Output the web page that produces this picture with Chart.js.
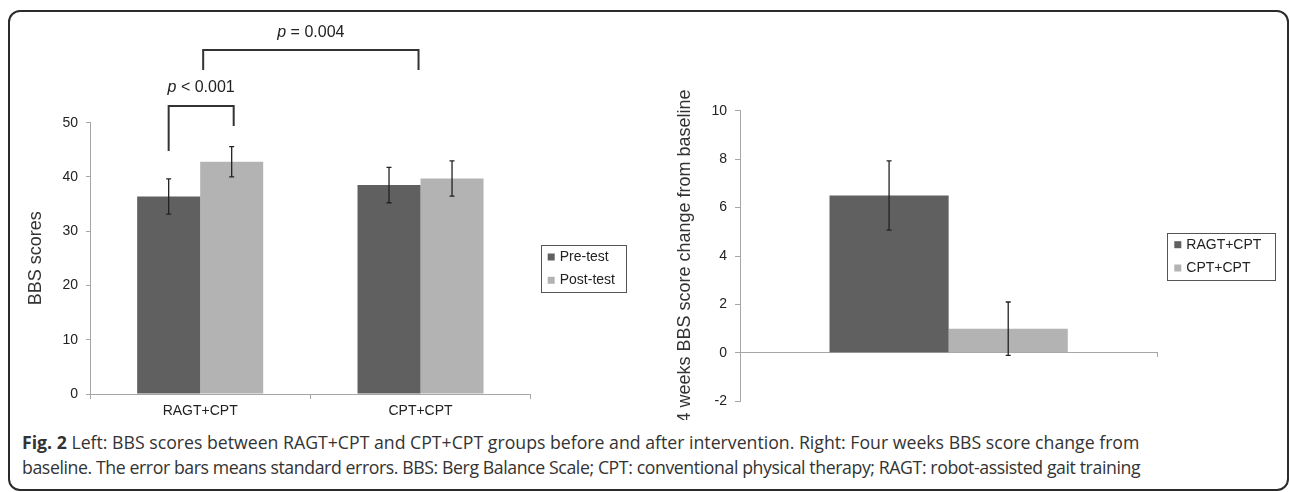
<!DOCTYPE html>
<html>
<head>
<meta charset="utf-8">
<script src="https://cdn.jsdelivr.net/npm/chart.js@4"></script>
<style>
  body { margin: 0; background: #fff; }
  #frame { position: absolute; left: 8px; top: 10px; width: 1281px; height: 481px;
           box-sizing: border-box; border: 2px solid #2b2b2b; border-radius: 12px; }
  #left { position: absolute; left: 0; top: 0; }
  #right { position: absolute; left: 640px; top: 0; }
  #caption { position: absolute; left: 22px; top: 430px; font-family: 'Open Sans', sans-serif;
             font-size: 17.7px; line-height: 25px; color: #333; white-space: nowrap; }
  #caption .l2 { letter-spacing: -0.4px; }
</style>
</head>
<body>
<div id="frame"></div>
<canvas id="left" width="640" height="420"></canvas>
<canvas id="right" width="650" height="420"></canvas>
<div id="caption"><b>Fig. 2</b> Left: BBS scores between RAGT+CPT and CPT+CPT groups before and after intervention. Right: Four weeks BBS score change from<br><span class="l2">baseline. The error bars means standard errors. BBS: Berg Balance Scale; CPT: conventional physical therapy; RAGT: robot-assisted gait training</span></div>
<script>
// data
var groups = ['RAGT+CPT', 'CPT+CPT'];
var preTest = [36.4, 38.5];
var postTest = [42.8, 39.7];
var preErr = [3.25, 3.25];
var postErr = [2.8, 3.25];

var changeRagt = [6.5];
var changeCpt = [1.0];
var changeRagtErr = [1.43];
var changeCptErr = [1.1];

var darkGrey = '#606060';
var lightGrey = '#b3b3b3';
var axisGrey = '#a6a6a6';
var font = '"Liberation Sans", Arial, sans-serif';

Chart.defaults.font.family = font;
Chart.defaults.color = '#222';

// draws mean +/- SE whiskers on every bar
var errorBars = {
    id: 'errorBars',
    afterDatasetsDraw: function(chart) {
        var ctx = chart.ctx;
        var y = chart.scales.y;
        ctx.save();
        ctx.strokeStyle = '#222';
        ctx.lineWidth = 1.3;
        chart.data.datasets.forEach(function(ds, i) {
            chart.getDatasetMeta(i).data.forEach(function(bar, j) {
                var top = y.getPixelForValue(ds.data[j] + ds.errors[j]);
                var bot = y.getPixelForValue(ds.data[j] - ds.errors[j]);
                ctx.beginPath();
                ctx.moveTo(bar.x, top); ctx.lineTo(bar.x, bot);
                ctx.moveTo(bar.x - 2.5, top); ctx.lineTo(bar.x + 2.5, top);
                ctx.moveTo(bar.x - 2.5, bot); ctx.lineTo(bar.x + 2.5, bot);
                ctx.stroke();
            });
        });
        ctx.restore();
    }
};

// legend with a frame, like the excel one
var boxLegend = {
    id: 'boxLegend',
    afterDraw: function(chart, args, opts) {
        var ctx = chart.ctx;
        var x = chart.chartArea.right + opts.dx;
        var y0 = opts.top;
        ctx.save();
        ctx.strokeStyle = '#555';
        ctx.lineWidth = 1;
        ctx.strokeRect(Math.round(x) + 0.5, Math.round(y0) + 0.5, opts.width, opts.height);
        ctx.font = '14px ' + font;
        ctx.textBaseline = 'middle';
        chart.data.datasets.forEach(function(ds, i) {
            var cy = y0 + 12 + i * 23.3;
            ctx.fillStyle = ds.backgroundColor;
            ctx.fillRect(x + 7, cy - 3.5, 7, 7);
            ctx.fillStyle = '#222';
            ctx.fillText(ds.label, x + 19, cy);
        });
        ctx.restore();
    }
};

// significance brackets, placed in data units
var brackets = {
    id: 'brackets',
    afterDraw: function(chart, args, opts) {
        var ctx = chart.ctx;
        var xs = chart.scales.x, ys = chart.scales.y;
        function px(p) {
            if (p.dataset !== undefined) return chart.getDatasetMeta(p.dataset).data[p.index].x;
            return xs.getPixelForValue(p.index);
        }
        ctx.save();
        ctx.strokeStyle = '#333';
        ctx.lineWidth = 2;
        opts.items.forEach(function(b) {
            var x1 = px(b.from) + (b.dx1 || 0), x2 = px(b.to) + (b.dx2 || 0);
            var top = ys.getPixelForValue(b.top);
            ctx.beginPath();
            ctx.moveTo(x1, ys.getPixelForValue(b.left));
            ctx.lineTo(x1, top);
            ctx.lineTo(x2, top);
            ctx.lineTo(x2, ys.getPixelForValue(b.right));
            ctx.stroke();

            var ty = ys.getPixelForValue(b.textAt);
            ctx.font = 'italic 16px ' + font;
            var wp = ctx.measureText('p').width;
            ctx.font = '16px ' + font;
            var wr = ctx.measureText(b.text).width;
            var sx = (x1 + x2) / 2 - (wp + wr) / 2;
            ctx.fillStyle = '#222';
            ctx.textBaseline = 'middle';
            ctx.font = 'italic 16px ' + font;
            ctx.fillText('p', sx, ty);
            ctx.font = '16px ' + font;
            ctx.fillText(b.text, sx + wp, ty);
        });
        ctx.restore();
    }
};

var leftChart = new Chart(document.getElementById('left').getContext('2d'), {
    type: 'bar',
    data: {
        labels: groups,
        datasets: [{
            label: 'Pre-test',
            data: preTest,
            errors: preErr,
            backgroundColor: darkGrey,
            categoryPercentage: 0.572,
            barPercentage: 1
        }, {
            label: 'Post-test',
            data: postTest,
            errors: postErr,
            backgroundColor: lightGrey,
            categoryPercentage: 0.572,
            barPercentage: 1
        }]
    },
    options: {
        responsive: false,
        animation: false,
        layout: { padding: { top: 122.7, right: 109.3, bottom: 0, left: 0 } },
        plugins: {
            legend: { display: false },
            tooltip: { enabled: false },
            boxLegend: { dx: 10, top: 245, width: 85, height: 47 },
            brackets: {
                items: [
                    { from: { dataset: 0, index: 0 }, to: { dataset: 1, index: 0 }, dx2: 2,
                      left: 44.8, top: 53.1, right: 49.4, text: ' < 0.001', textAt: 56.4 },
                    { from: { index: 0 }, to: { index: 1 }, dx1: 3, dx2: -2,
                      left: 59.7, top: 63.4, right: 59.7, text: ' = 0.004', textAt: 66.6 }
                ]
            }
        },
        scales: {
            x: {
                grid: { drawOnChartArea: false, tickLength: 5, color: axisGrey },
                border: { color: axisGrey },
                ticks: { font: { size: 14 }, padding: 4, maxRotation: 0 },
                afterFit: function(s) { s.height = 26; }
            },
            y: {
                min: 0,
                max: 50,
                ticks: { stepSize: 10, font: { size: 14 }, padding: 8 },
                grid: { drawOnChartArea: false, tickLength: 4, color: axisGrey },
                border: { color: axisGrey },
                title: { display: true, text: 'BBS scores', font: { size: 18 }, color: '#333',
                         padding: { top: 25, bottom: 0 } },
                afterFit: function(s) { s.width = 90; }
            }
        }
    },
    plugins: [errorBars, boxLegend, brackets]
});

var rightChart = new Chart(document.getElementById('right').getContext('2d'), {
    type: 'bar',
    data: {
        labels: [''],
        datasets: [{
            label: groups[0],
            data: changeRagt,
            errors: changeRagtErr,
            backgroundColor: darkGrey,
            categoryPercentage: 0.571,
            barPercentage: 1
        }, {
            label: groups[1],
            data: changeCpt,
            errors: changeCptErr,
            backgroundColor: lightGrey,
            categoryPercentage: 0.571,
            barPercentage: 1
        }]
    },
    options: {
        responsive: false,
        animation: false,
        layout: { padding: { top: 110.7, right: 132.7, bottom: 18.7, left: 0 } },
        plugins: {
            legend: { display: false },
            tooltip: { enabled: false },
            boxLegend: { dx: 10, top: 232.7, width: 108, height: 47 }
        },
        scales: {
            x: {
                position: { y: 0 },
                grid: { drawOnChartArea: false, tickLength: 4, color: axisGrey },
                border: { color: axisGrey },
                ticks: { display: false }
            },
            y: {
                min: -2,
                max: 10,
                ticks: { stepSize: 2, font: { size: 14 }, padding: 8 },
                grid: { drawOnChartArea: false, tickLength: 5, color: axisGrey },
                border: { color: axisGrey },
                title: { display: true, text: '4 weeks BBS score change from baseline', font: { size: 18 },
                         color: '#333', padding: { top: 34, bottom: 0 } },
                afterFit: function(s) { s.width = 100; }
            }
        }
    },
    plugins: [errorBars, boxLegend]
});
</script>
</body>
</html>
